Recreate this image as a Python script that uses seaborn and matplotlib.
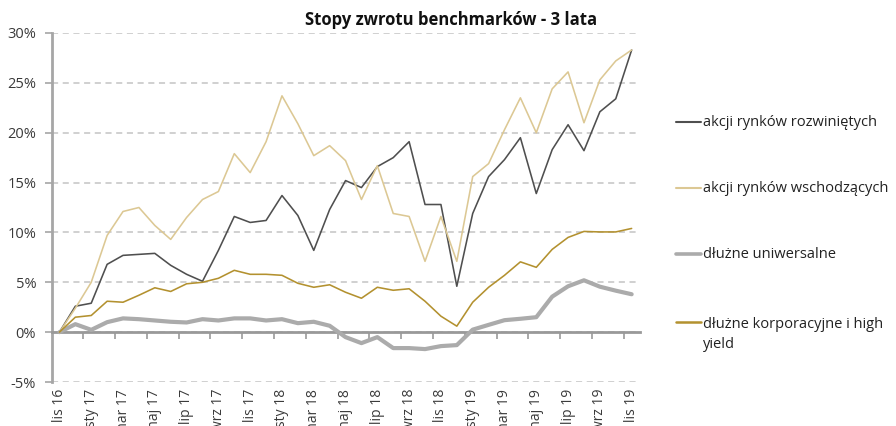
import numpy as np
import pandas as pd
import matplotlib
matplotlib.use("Agg")
import matplotlib.pyplot as plt
from matplotlib.lines import Line2D
import seaborn as sns

# ---------------- data ----------------
months = ["lis 16", "gru 16",
          "sty 17", "lut 17", "mar 17", "kwi 17", "maj 17", "cze 17",
          "lip 17", "sie 17", "wrz 17", "paź 17", "lis 17", "gru 17",
          "sty 18", "lut 18", "mar 18", "kwi 18", "maj 18", "cze 18",
          "lip 18", "sie 18", "wrz 18", "paź 18", "lis 18", "gru 18",
          "sty 19", "lut 19", "mar 19", "kwi 19", "maj 19", "cze 19",
          "lip 19", "sie 19", "wrz 19", "paź 19", "lis 19"]

series_names = ["akcji rynków rozwiniętych",
                "akcji rynków wschodzących",
                "dłużne uniwersalne",
                "dłużne korporacyjne i high yield"]

akcje_rozwiniete = [0, 2.6, 2.9, 6.8, 7.7, 7.8, 7.9, 6.7, 5.8, 5.1, 8.2, 11.6,
                    11.0, 11.2, 13.7, 11.7, 8.2, 12.3, 15.2, 14.5, 16.6, 17.5,
                    19.1, 12.8, 12.8, 4.6, 11.9, 15.6, 17.3, 19.5, 13.9, 18.3,
                    20.8, 18.2, 22.1, 23.4, 28.3]
akcje_wschodzace = [0, 2.4, 5.0, 9.7, 12.1, 12.5, 10.7, 9.3, 11.5, 13.3, 14.1,
                    17.9, 16.0, 19.1, 23.7, 20.9, 17.7, 18.7, 17.2, 13.3, 16.7,
                    11.9, 11.6, 7.1, 11.6, 7.1, 15.6, 16.9, 20.3, 23.5, 20.0,
                    24.4, 26.1, 21.0, 25.3, 27.2, 28.3]
dluzne_uniwersalne = [0, 0.8, 0.23, 1.0, 1.38, 1.3, 1.17, 1.04, 0.97, 1.3, 1.17,
                      1.38, 1.38, 1.17, 1.3, 0.9, 1.04, 0.64, -0.5, -1.1, -0.5,
                      -1.6, -1.6, -1.7, -1.4, -1.3, 0.25, 0.73, 1.2, 1.34, 1.5,
                      3.56, 4.6, 5.2, 4.56, 4.16, 3.8]
dluzne_korporacyjne = [0, 1.5, 1.67, 3.1, 3.0, 3.7, 4.45, 4.08, 4.85, 5.0, 5.4,
                       6.2, 5.8, 5.8, 5.7, 4.9, 4.5, 4.75, 4.0, 3.4, 4.5, 4.2,
                       4.35, 3.1, 1.6, 0.6, 3.0, 4.5, 5.7, 7.05, 6.5, 8.3, 9.5,
                       10.1, 10.05, 10.05, 10.4]

y_ticks = [-5, 0, 5, 10, 15, 20, 25, 30]
y_tick_labels = ["-5%", "0%", "5%", "10%", "15%", "20%", "25%", "30%"]

title = "Stopy zwrotu benchmarków - 3 lata"

# ---------------- styles ----------------
colors = ["#4f4f4f", "#dcc894", "#ababab", "#b3912f"]
widths = [1.15, 1.15, 3.0, 1.15]
legend_widths = [1.5, 1.5, 2.6, 1.8]

sns.set_theme(style="white")
plt.rcParams["font.family"] = ["Open Sans", "DejaVu Sans"]

fig = plt.figure(figsize=(8.96, 4.26), dpi=100)
ax = fig.add_axes([51.5 / 896, 1 - 382 / 426, (639.6 - 51.5) / 896, (382 - 33) / 426])

df = pd.DataFrame({"idx": np.arange(len(months)), "miesiac": months})
values = [akcje_rozwiniete, akcje_wschodzace, dluzne_uniwersalne, dluzne_korporacyjne]
for name, vals, c, w in zip(series_names, values, colors, widths):
    df[name] = vals
    sns.lineplot(data=df, x="idx", y=name, ax=ax, color=c, linewidth=w,
                 legend=False, zorder=3)

ax.set_xlim(-0.5, len(months) - 0.5)
ax.set_ylim(-5, 30)
ax.set_xlabel("")
ax.set_ylabel("")

# y axis
ax.set_yticks(y_ticks)
ax.set_yticklabels(y_tick_labels)
ax.tick_params(axis="y", length=5, width=1.2, color="#a6a6a6", pad=6,
               labelsize=10.5, labelcolor="#3a3a3a", left=True)
ax.yaxis.grid(True, linestyle=(0, (4, 3)), color="#c4c4c4", linewidth=1.1)
ax.xaxis.grid(False)

# spines
for s in ["top", "right"]:
    ax.spines[s].set_visible(False)
ax.spines["left"].set_color("#a6a6a6")
ax.spines["left"].set_linewidth(2.0)
ax.spines["bottom"].set_position(("data", 0))
ax.spines["bottom"].set_color("#999999")
ax.spines["bottom"].set_linewidth(2.0)
ax.spines["bottom"].set_zorder(2.5)

# tick marks on the zero line (between category pairs)
ax.set_xticks([])
ax.set_xticks(np.arange(1.5, len(months) - 1, 2), minor=True)
ax.tick_params(axis="x", which="minor", length=5, width=1.2, color="#999999",
               direction="out", bottom=True)

# category labels at the bottom of the plot area
sec = ax.secondary_xaxis("bottom")
pos = list(range(0, len(months), 2))
sec.set_xticks(pos)
sec.set_xticklabels([months[i] for i in pos], rotation=90)
sec.tick_params(length=0, pad=5, labelsize=10, labelcolor="#3a3a3a")
sec.spines["bottom"].set_visible(False)

# title
fig.text(0.503, 1 - 20 / 426, title, ha="center", va="center",
         fontsize=12, fontweight="bold", color="#111111")

# legend (manual, right side)
leg_y = [122, 188, 254, 322]
leg_labels = ["akcji rynków rozwiniętych", "akcji rynków wschodzących",
              "dłużne uniwersalne", "dłużne korporacyjne i high\nyield"]
for yy, lab, c, lw in zip(leg_y, leg_labels, colors, legend_widths):
    yf = 1 - yy / 426
    fig.add_artist(Line2D([676 / 896, 701 / 896], [yf, yf], color=c, linewidth=lw,
                          transform=fig.transFigure))
    nextra = lab.count("\n")
    fig.text(703 / 896, yf - (4.5 + 21 * nextra) / 426, lab, ha="left",
             va="baseline", fontsize=10.5, color="#222222", linespacing=1.45)

fig.savefig("out.png", dpi=100)
